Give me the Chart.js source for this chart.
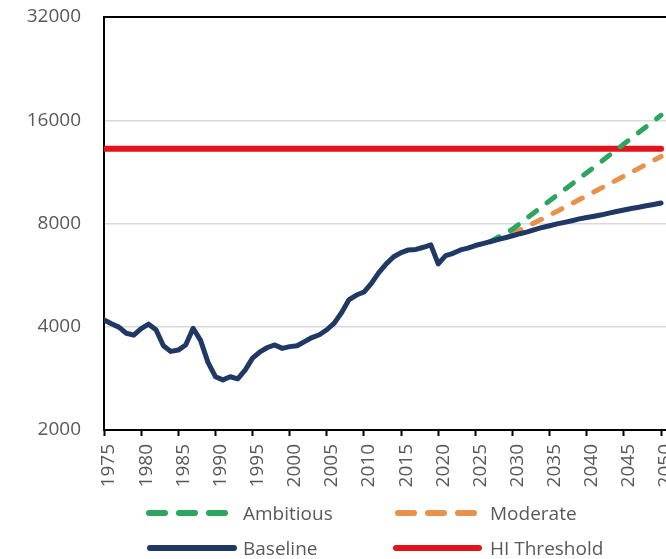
<!DOCTYPE html>
<html>
<head>
<meta charset="utf-8">
<script src="https://cdn.jsdelivr.net/npm/chart.js@4.4.1/dist/chart.umd.min.js"></script>
<style>
  html, body { margin: 0; padding: 0; background: #fff; overflow: hidden; }
  #wrap { position: relative; width: 666px; height: 559px; overflow: hidden; }
  #chart { position: absolute; left: 0; top: 0; }
  #legendLines { position: absolute; left: 0; top: 0; }
  .leg { position: absolute; font-family: "Open Sans"; font-size: 19px; line-height: 26px; color: #595959; white-space: nowrap; }
</style>
</head>
<body>
<div id="wrap">
  <canvas id="chart" width="700" height="500"></canvas>
  <svg id="legendLines" width="666" height="559">
    <line x1="149" y1="513" x2="225" y2="513" stroke="#2ba65e" stroke-width="6" stroke-linecap="round" stroke-dasharray="16 14"/>
    <line x1="398" y1="513" x2="474" y2="513" stroke="#e8914a" stroke-width="6" stroke-linecap="round" stroke-dasharray="16 14"/>
    <line x1="150" y1="548" x2="234" y2="548" stroke="#1f3864" stroke-width="6" stroke-linecap="round"/>
    <line x1="396" y1="548" x2="479" y2="548" stroke="#e3131b" stroke-width="6" stroke-linecap="round"/>
  </svg>
  <div class="leg" style="left:243px; top:500px;">Ambitious</div>
  <div class="leg" style="left:490px; top:500px;">Moderate</div>
  <div class="leg" style="left:243px; top:535px;">Baseline</div>
  <div class="leg" style="left:490px; top:535px;">HI Threshold</div>
</div>
<script>
// ===== Data =====
const years = [
  1975, 1976, 1977, 1978, 1979, 1980, 1981, 1982, 1983, 1984,
  1985, 1986, 1987, 1988, 1989, 1990, 1991, 1992, 1993, 1994,
  1995, 1996, 1997, 1998, 1999, 2000, 2001, 2002, 2003, 2004,
  2005, 2006, 2007, 2008, 2009, 2010, 2011, 2012, 2013, 2014,
  2015, 2016, 2017, 2018, 2019, 2020, 2021, 2022, 2023, 2024,
  2025, 2026, 2027, 2028, 2029, 2030, 2031, 2032, 2033, 2034,
  2035, 2036, 2037, 2038, 2039, 2040, 2041, 2042, 2043, 2044,
  2045, 2046, 2047, 2048, 2049, 2050
];
const baseline = [
  4190, 4080, 3990, 3830, 3780, 3950, 4070, 3920, 3520, 3390,
  3420, 3540, 3960, 3650, 3150, 2860, 2800, 2860, 2820, 2990,
  3240, 3380, 3480, 3540, 3460, 3500, 3520, 3620, 3720, 3790,
  3920, 4100, 4400, 4800, 4950, 5050, 5350, 5750, 6100, 6400,
  6580, 6700, 6720, 6820, 6930, 6100, 6450, 6550, 6700, 6780,
  6900, 6990, 7080, 7180, 7270, 7370, 7470, 7560, 7680, 7790,
  7880, 7980, 8060, 8150, 8250, 8330, 8400, 8480, 8580, 8670,
  8760, 8850, 8920, 9010, 9090, 9180
];

const scenarioYears = [2027, 2030, 2035, 2040, 2045, 2050];
const ambitious     = [7080, 7700, 9320, 11240, 13650, 16540];
const moderate      = [7080, 7470, 8460, 9640, 10990, 12550];

const thresholdYears = [1975, 2050];
const hiThreshold    = [13205, 13205];

const xTickYears  = [1975, 1980, 1985, 1990, 1995, 2000, 2005, 2010, 2015, 2020, 2025, 2030, 2035, 2040, 2045, 2050];
const yTickValues = [2000, 4000, 8000, 16000, 32000];

const NAVY = '#1f3864';
const GREEN = '#2ba65e';
const ORANGE = '#e8914a';
const RED = '#e3131b';
const TICK_FONT = { family: 'Open Sans', size: 19 };

const pts = (xs, ys) => xs.map((x, i) => ({ x, y: ys[i] }));

new Chart(document.getElementById('chart').getContext('2d'), {
  type: 'line',
  data: {
    datasets: [
      { label: 'Baseline', data: pts(years, baseline), borderColor: NAVY, borderWidth: 5, order: 0 },
      { label: 'Ambitious', data: pts(scenarioYears, ambitious), borderColor: GREEN, borderWidth: 5, borderDash: [10, 13], order: 1 },
      { label: 'Moderate', data: pts(scenarioYears, moderate), borderColor: ORANGE, borderWidth: 5, borderDash: [10, 13], order: 2 },
      { label: 'HI Threshold', data: pts(thresholdYears, hiThreshold), borderColor: RED, borderWidth: 6, order: 3 }
    ]
  },
  options: {
    responsive: false,
    animation: false,
    devicePixelRatio: 1,
    layout: { padding: { left: 0, right: 33, top: 17, bottom: 10 } },
    elements: {
      point: { radius: 0 },
      line: { tension: 0, fill: false, borderCapStyle: 'round', borderJoinStyle: 'round' }
    },
    plugins: { legend: { display: false }, tooltip: { enabled: false } },
    scales: {
      x: {
        type: 'linear',
        min: 1975,
        max: 2050.8,
        afterBuildTicks: s => { s.ticks = xTickYears.map(v => ({ value: v })); },
        afterFit: s => { s.height = 60; s.paddingLeft = 0; s.paddingRight = 0; },
        ticks: {
          autoSkip: false,
          minRotation: 90,
          maxRotation: 90,
          padding: 8,
          labelOffset: 5,
          color: '#595959',
          font: TICK_FONT,
          callback: v => String(v)
        },
        grid: { drawOnChartArea: false, drawTicks: true, tickLength: 6, tickColor: '#000', tickWidth: 2 },
        border: { color: '#000', width: 2 }
      },
      y: {
        type: 'logarithmic',
        min: 2000,
        max: 32000,
        afterBuildTicks: s => { s.ticks = yTickValues.map(v => ({ value: v })); },
        // fixed axis width; drop the label overhang padding so the plot top sits at 17px
        afterFit: s => { s.width = 104; s.paddingTop = 0; s.paddingBottom = 0; },
        ticks: {
          padding: 23,
          color: '#595959',
          font: TICK_FONT,
          callback: v => String(v)
        },
        grid: {
          drawTicks: false,
          color: c => (c.tick && c.tick.value === 32000) ? '#000' : '#d9d9d9',
          lineWidth: c => (c.tick && c.tick.value === 32000) ? 2 : 1.5
        },
        border: { color: '#000', width: 2 }
      }
    }
  }
});
</script>
</body>
</html>
